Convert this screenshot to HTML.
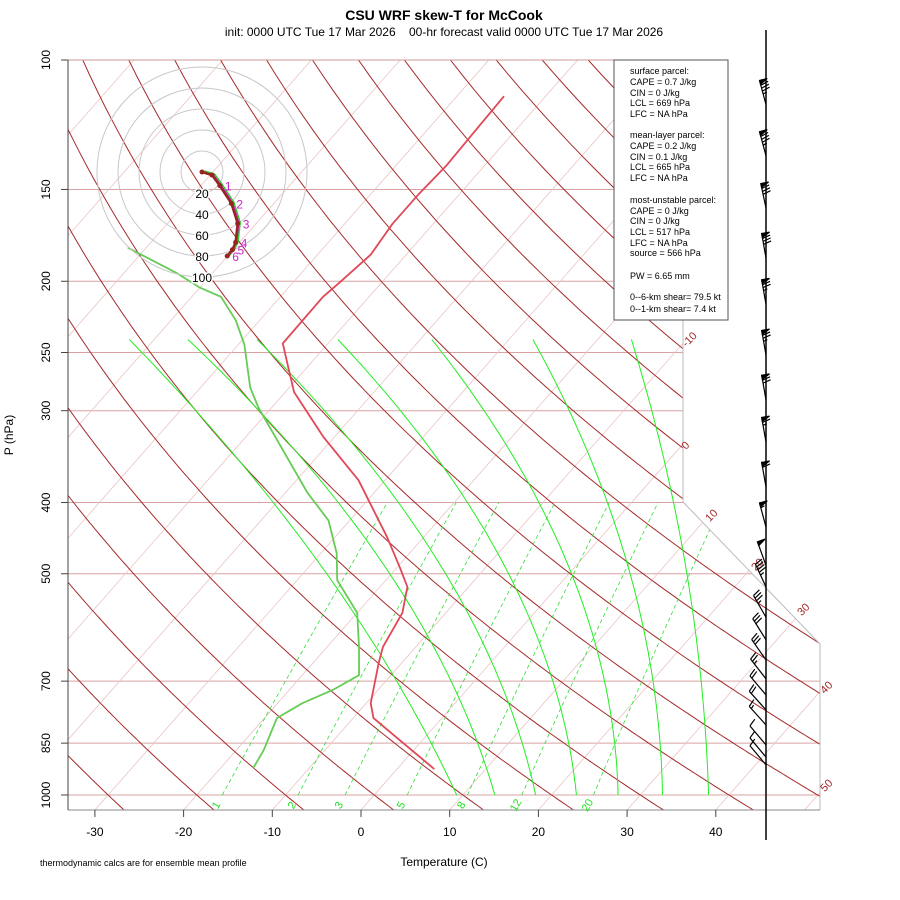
<!DOCTYPE html>
<html><head><meta charset="utf-8">
<style>
html,body{margin:0;padding:0;background:#fff;}
svg{display:block;font-family:"Liberation Sans",sans-serif;}
</style></head>
<body>
<svg id="chart" width="900" height="900" viewBox="0 0 900 900" xmlns="http://www.w3.org/2000/svg">
<defs>
<clipPath id="plotclip"><polygon points="68,60 683,60 683,502 820,644 820,810 68,810"/></clipPath>
</defs>
<rect width="900" height="900" fill="#fff"/>
<text x="444" y="20" text-anchor="middle" font-size="14" font-weight="bold">CSU WRF skew-T for McCook</text>
<text x="444" y="36" text-anchor="middle" font-size="12">init: 0000 UTC Tue 17 Mar 2026&#160;&#160;&#160;&#160;00-hr forecast valid 0000 UTC Tue 17 Mar 2026</text>
<g id="grid" clip-path="url(#plotclip)"></g>
<g id="traces" clip-path="url(#plotclip)"></g>
<g id="frame">
<polyline points="683,60 683,502 820,644 820,810" fill="none" stroke="#bbb" stroke-width="1"/>
<line x1="68" y1="60" x2="683" y2="60" stroke="#c99" stroke-width="1"/>
<line x1="68" y1="810" x2="820" y2="810" stroke="#888" stroke-width="1"/>
<line x1="68" y1="60" x2="68" y2="810" stroke="#444" stroke-width="1"/>
</g>
<g id="axes"></g>
<g id="hodo"></g>
<g id="barbs">
<line x1="766" y1="30" x2="766" y2="840" stroke="#000" stroke-width="1.5"/>
</g>
<g font-size="9" fill="#000">
<rect x="614" y="60" width="114" height="260" fill="#fff" stroke="#555" stroke-width="1"/>
<text x="630" y="74">surface parcel:</text>
<text x="630" y="85">CAPE = 0.7 J/kg</text>
<text x="630" y="96">CIN = 0 J/kg</text>
<text x="630" y="106">LCL = 669 hPa</text>
<text x="630" y="117">LFC = NA hPa</text>
<text x="630" y="138">mean-layer parcel:</text>
<text x="630" y="149">CAPE = 0.2 J/kg</text>
<text x="630" y="160">CIN = 0.1 J/kg</text>
<text x="630" y="170">LCL = 665 hPa</text>
<text x="630" y="181">LFC = NA hPa</text>
<text x="630" y="203">most-unstable parcel:</text>
<text x="630" y="214">CAPE = 0 J/kg</text>
<text x="630" y="224">CIN = 0 J/kg</text>
<text x="630" y="235">LCL = 517 hPa</text>
<text x="630" y="246">LFC = NA hPa</text>
<text x="630" y="256">source = 566 hPa</text>
<text x="630" y="279">PW =  6.65 mm</text>
<text x="630" y="300">0--6-km shear= 79.5 kt</text>
<text x="630" y="312">0--1-km shear= 7.4 kt</text>
</g>
<text transform="translate(13,435) rotate(-90)" text-anchor="middle" font-size="12">P (hPa)</text>
<text x="444" y="866" text-anchor="middle" font-size="12">Temperature (C)</text>
<text x="40" y="866" font-size="9">thermodynamic calcs are for ensemble mean profile</text>
</svg>
<script>
// ---- data ----
const pressureTicks = [100,150,200,250,300,400,500,700,850,1000];
const tempTicks = [-30,-20,-10,0,10,20,30,40];
const isothermLabels = [-10,0,10,20,30,40,50];
const dryThetas = [-40,-30,-20,-10,0,10,20,30,40,50,60,70,80,90,100,110,120,130,140,150,160,170,180,190,200];
const mixRatios = [1,2,3,5,8,12,20];
const moistT1000 = [9.3,13.6,18.2,22.8,27.5,32.5,37.7];
const moistT500 = [-27.3,-20.2,-13.9,-6.8,0.3,6.9,13.3];
const moistT240 = [-72.8,-66.2,-58.4,-49.3,-38.7,-27.3,-16.2];
const tempP = [112,126,139,152,167,184,202,210,243,262,283,326,373,446,490,521,565,629,661,750,786,922];
const tempT = [-54.7,-54.5,-54.3,-54.6,-54.6,-54.0,-54.8,-55.2,-55.1,-52.1,-49.0,-41.2,-33.0,-24.1,-19.7,-16.9,-14.9,-13.7,-12.6,-9.5,-7.7,4.2];
const dewP = [180,195,204,210,226,244,279,297,388,423,469,510,565,629,687,720,750,786,869,919];
const dewT = [-82.1,-74.0,-70.0,-66.7,-62.7,-59.3,-54.4,-51.5,-37.5,-32.4,-28.2,-25.5,-20.0,-16.4,-13.6,-15.1,-17.2,-18.6,-16.9,-16.3];
const hodoU = [0,9.5,17,28,34,32,29,24];
const hodoV = [0,-2.9,-13,-30,-49,-67,-74,-80];
const hodoLabels = ["0","0.5","1","2","3","4","5","6"];
const hodoRings = [20,40,60,80,100];
const barbP = [115,135,159,186,215,252,290,331,381,432,487,521,573,615,655,695,731,766,803,855,888,910];
const barbSpd = [85,85,80,80,75,75,70,65,60,55,50,45,35,30,30,25,20,20,15,10,10,10];
const barbDir = [345,345,348,350,350,350,350,350,350,345,340,335,330,328,325,322,320,318,318,320,320,320];

// ---- scales ----
const NS='http://www.w3.org/2000/svg';
function yP(p){return 795-319.2*Math.log(1000/p);}
function xT(T,p){return 361+8.87*T+0.88*(810-yP(p));}
function mk(tag,attrs,parent){const e=document.createElementNS(NS,tag);for(const k in attrs)e.setAttribute(k,attrs[k]);parent.appendChild(e);return e;}
function pathFrom(pts){return pts.map((q,i)=>(i?'L':'M')+q[0].toFixed(1)+','+q[1].toFixed(1)).join(' ');}
const grid=document.getElementById('grid'),traces=document.getElementById('traces'),axes=document.getElementById('axes'),hodo=document.getElementById('hodo'),barbs=document.getElementById('barbs');
const pLevels=[];for(let p=1060;p>=95;p-=5)pLevels.push(p);

pressureTicks.forEach(p=>{
  const l=mk('line',{x1:68,x2:820,y1:yP(p),y2:yP(p),stroke:'#d9a3a3','stroke-width':1},grid);
  
  
});
for(let T=-120;T<=60;T+=10){
  const l=mk('line',{x1:xT(T,1060),y1:yP(1060),x2:xT(T,95),y2:yP(95),stroke:'#ebc4c4','stroke-width':0.8},grid);
  
  
}
dryThetas.forEach(th=>{
  const pts=pLevels.map(p=>[xT((th+273.15)*Math.pow(p/1000,0.2857)-273.15,p),yP(p)]);
  const e=mk('path',{d:pathFrom(pts),fill:'none',stroke:'#a52a2a','stroke-width':1},grid);
  
  
});
const L1=Math.log(1000),L2=Math.log(500),L3=Math.log(240);
moistT1000.forEach((t1,i)=>{
  const t2=moistT500[i],t3=moistT240[i];const pts=[];
  for(let p=1000;p>=240;p-=5){const x=Math.log(p);
    const T=t1*(x-L2)*(x-L3)/((L1-L2)*(L1-L3))+t2*(x-L1)*(x-L3)/((L2-L1)*(L2-L3))+t3*(x-L1)*(x-L2)/((L3-L1)*(L3-L2));
    pts.push([xT(T,p),yP(p)]);}
  const e=mk('path',{d:pathFrom(pts),fill:'none',stroke:'#22ee22','stroke-width':1},grid);
  
  
});
mixRatios.forEach(w=>{
  const pts=[];
  for(let p=1000;p>=400;p-=10){const e=w*p/(622+w);const a=Math.log(e/6.112);const T=243.5*a/(17.67-a);pts.push([xT(T,p),yP(p)]);}
  const e=mk('path',{d:pathFrom(pts),fill:'none',stroke:'#33dd33','stroke-width':0.8,'stroke-dasharray':'4,3'},grid);
  
  
  const t=mk('text',{x:0,y:0,'font-size':11,fill:'#22dd22','text-anchor':'middle',transform:`translate(${pts[0][0]-3},${yP(1000)+12}) rotate(-60)`},axes);
  t.textContent=w;
  
  
});
const isoLabPos=[[692,342],[688,448],[714,518],[760,567],[806,612],[829,690],[829,788]];
isothermLabels.forEach((T,i)=>{
  const t=mk('text',{'font-size':11,fill:'#a52a2a','text-anchor':'middle',transform:`translate(${isoLabPos[i][0]},${isoLabPos[i][1]}) rotate(-45)`},axes);
  t.textContent=T;
  
  
});
pressureTicks.forEach(p=>{
  const y=yP(p);
  const l=mk('line',{x1:61,x2:68,y1:y,y2:y,stroke:'#444'},axes);
  
  
  const t=mk('text',{'font-size':12,'text-anchor':'middle',transform:`translate(50,${y}) rotate(-90)`},axes);
  t.textContent=p;
  
  
});
tempTicks.forEach(T=>{
  const x=361+8.87*T;
  const l=mk('line',{x1:x,x2:x,y1:810,y2:817,stroke:'#444'},axes);
  
  
  const t=mk('text',{x:x,y:836,'font-size':12,'text-anchor':'middle'},axes);
  t.textContent=T;
  
  
});
const tp=mk('path',{d:pathFrom(tempP.map((p,i)=>[xT(tempT[i],p),yP(p)])),fill:'none',stroke:'#e04858','stroke-width':1.8,'stroke-linejoin':'round'},traces);


const dp=mk('path',{d:pathFrom(dewP.map((p,i)=>[xT(dewT[i],p),yP(p)])),fill:'none',stroke:'#66cc55','stroke-width':1.8,'stroke-linejoin':'round'},traces);


const hx=202,hy=172,hs=1.05;
hodoRings.forEach(r=>{
  const c=mk('circle',{cx:hx,cy:hy,r:r*hs,fill:'none',stroke:'#c8c8c8','stroke-width':1},hodo);
  
  
});
hodoRings.forEach(r=>{
  const t=mk('text',{x:hx,y:hy+r*hs+5,'font-size':12,'text-anchor':'middle',stroke:'#fff','stroke-width':3,'paint-order':'stroke'},hodo);
  t.textContent=r;
  
  
});
const hpts=hodoU.map((u,i)=>[hx+u*hs,hy-hodoV[i]*hs]);
const hm=mk('path',{d:pathFrom(hpts.map(q=>[q[0]+1.5,q[1]])),fill:'none',stroke:'#ee00ee','stroke-width':2},hodo);


const hg=mk('path',{d:pathFrom(hpts.map(q=>[q[0]+2.5,q[1]-1])),fill:'none',stroke:'#33cc33','stroke-width':1.5},hodo);


const hl=mk('path',{d:pathFrom(hpts),fill:'none',stroke:'#992222','stroke-width':2.5},hodo);


hpts.forEach((q,i)=>{
  const c=mk('circle',{cx:q[0],cy:q[1],r:2.5,fill:'#992222'},hodo);
  
  
  if(i>1){const t=mk('text',{x:q[0]+5,y:q[1]+5,'font-size':12,fill:'#cc22cc'},hodo);
    t.textContent=hodoLabels[i];
    
    }
});
barbP.forEach((p,i)=>{
  const bx=766,by=yP(p),d=barbDir[i]*Math.PI/180;
  const sx=Math.sin(d),sy=-Math.cos(d),nx=-sy,ny=sx,L=25;
  const tx=bx+sx*L,ty=by+sy*L;
  const g=mk('g',{stroke:'#000','stroke-width':1.2,fill:'#000'},barbs);
  
  
  mk('line',{x1:bx,y1:by,x2:tx,y2:ty},g);
  let s=Math.round(barbSpd[i]/5)*5,pos=0;
  while(s>=50){const ax=tx-sx*pos,ay=ty-sy*pos;
    mk('polygon',{points:`${ax},${ay} ${ax+nx*8},${ay+ny*8} ${ax-sx*4},${ay-sy*4}`},g);pos+=5;s-=50;}
  while(s>=10){const ax=tx-sx*pos,ay=ty-sy*pos;
    mk('line',{x1:ax,y1:ay,x2:ax+nx*8+sx*2,y2:ay+ny*8+sy*2},g);pos+=3;s-=10;}
  if(s>=5){if(pos===0)pos=3;const ax=tx-sx*pos,ay=ty-sy*pos;
    mk('line',{x1:ax,y1:ay,x2:ax+nx*4+sx*1,y2:ay+ny*4+sy*1},g);}
});
</script>
</body></html>
